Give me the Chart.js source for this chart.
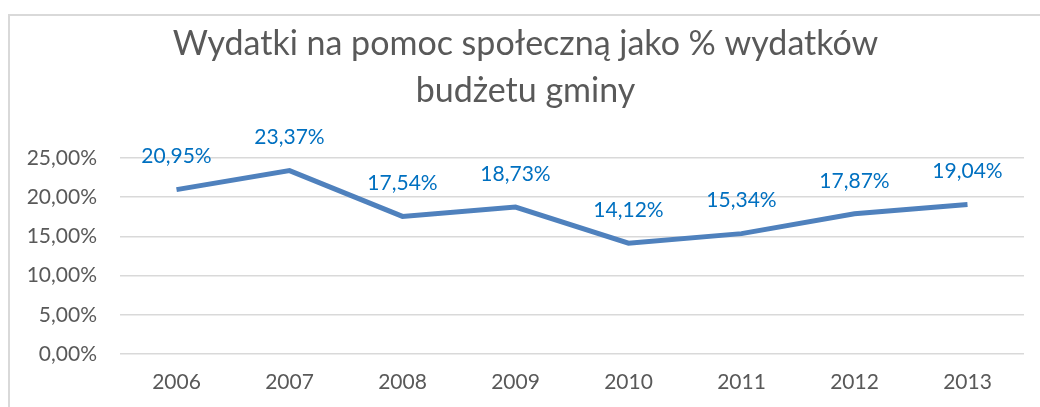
<!DOCTYPE html>
<html>
<head>
<meta charset="utf-8">
<script src="https://cdn.jsdelivr.net/npm/chart.js@4/dist/chart.umd.min.js"></script>
<style>
  html, body { margin: 0; padding: 0; background: #fff; overflow: hidden; }
  #frame { position: absolute; left: 8px; top: 14px; width: 1046px; height: 400px;
           border-left: 2px solid #d9d9d9; border-top: 2px solid #d9d9d9; box-sizing: border-box; }
  #wrap { position: absolute; left: 8px; top: 14px; width: 1046px; height: 393px; }
</style>
</head>
<body>
<div id="frame"></div>
<div id="wrap"><canvas id="myChart"></canvas></div>
<script>
var years = ['2006', '2007', '2008', '2009', '2010', '2011', '2012', '2013'];
var shares = [20.95, 23.37, 17.54, 18.73, 14.12, 15.34, 17.87, 19.04];
var titleLines = ['Wydatki na pomoc społeczną jako % wydatków', 'budżetu gminy'];

function pct(v) {
    return v.toFixed(2).replace('.', ',') + '%';
}

// labels above the points, like the excel data labels
var pointLabels = {
    id: 'pointLabels',
    afterDatasetsDraw: function (chart) {
        var c = chart.ctx;
        var meta = chart.getDatasetMeta(0);
        c.save();
        c.font = '21px Lato';
        c.fillStyle = '#0070C0';
        c.textAlign = 'center';
        c.textBaseline = 'middle';
        meta.data.forEach(function (pt, i) {
            c.fillText(pct(shares[i]), pt.x, pt.y - 33);
        });
        c.restore();
    }
};

function draw() {
    var ctx = document.getElementById('myChart').getContext('2d');
    new Chart(ctx, {
        type: 'line',
        data: {
            labels: years,
            datasets: [{
                data: shares,
                borderColor: '#4F81BD',
                borderWidth: 5,
                pointRadius: 0,
                tension: 0,
                clip: false
            }]
        },
        options: {
            responsive: true,
            maintainAspectRatio: false,
            animation: false,
            layout: { padding: { left: 19, right: 30, top: 0, bottom: 13 } },
            plugins: {
                legend: { display: false },
                tooltip: { enabled: false },
                title: {
                    display: true,
                    text: titleLines,
                    color: '#595959',
                    font: { family: 'Lato', size: 34, weight: 'normal', lineHeight: 1.38 },
                    padding: { top: 7, bottom: 43 }
                }
            },
            scales: {
                x: {
                    offset: true,
                    grid: { display: false, drawTicks: false },
                    border: { display: false },
                    ticks: { color: '#595959', font: { family: 'Lato', size: 21 }, padding: 16 },
                    afterFit: function (s) { s.height = 40; }
                },
                y: {
                    min: 0,
                    max: 25,
                    ticks: {
                        stepSize: 5,
                        color: '#595959',
                        font: { family: 'Lato', size: 21 },
                        padding: 23,
                        callback: function (v) { return pct(v); }
                    },
                    grid: { color: '#d9d9d9', lineWidth: 1.5, drawTicks: false },
                    border: { display: false },
                    afterFit: function (s) { s.width = 93; }
                }
            }
        },
        plugins: [pointLabels]
    });
}

Promise.all([
    document.fonts.load('21px Lato'),
    document.fonts.load('34px Lato')
]).then(draw, draw);
</script>
</body>
</html>
